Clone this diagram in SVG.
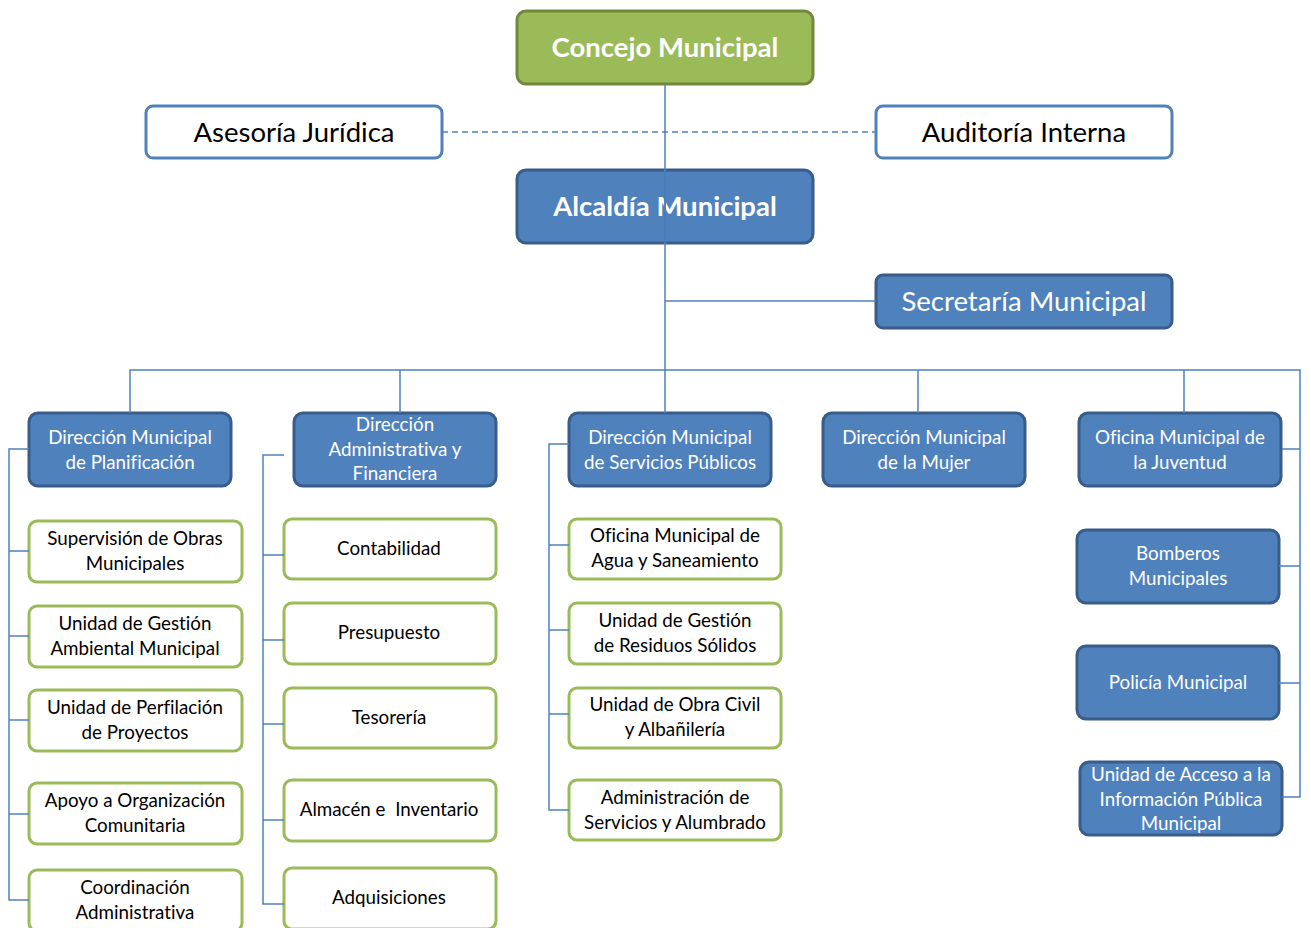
<svg xmlns="http://www.w3.org/2000/svg" width="1311" height="928" viewBox="0 0 1311 928">
<style>
.bg{fill:#ffffff}
.green{fill:#9BBB59;stroke:#71893F;stroke-width:3}
.blue{fill:#4F81BD;stroke:#385D8A;stroke-width:3}
.wb{fill:#ffffff;stroke:#4F81BD;stroke-width:3}
.wg{fill:#ffffff;stroke:#9BBB59;stroke-width:3}
.big{font-family:Lato,"Liberation Sans",sans-serif;font-size:27.5px;text-anchor:middle;font-variant-ligatures:none}
.bold{font-weight:bold}
.sm{font-family:Lato,"Liberation Sans",sans-serif;font-size:18.8px;text-anchor:middle;font-variant-ligatures:none}
.tw{fill:#ffffff}
.tk{fill:#000000}
.ln{fill:none;stroke:#4F81BD;stroke-width:1.5}
.thru{fill:none;stroke:#4A7BB5;stroke-width:1.5}
.dash{stroke-dasharray:6 4}
</style>
<rect class="bg" x="0" y="0" width="1311" height="928"/>

<g id="concejo"><rect class="green" x="517" y="11" width="296" height="73" rx="9"/><text class="big bold tw" x="665" y="57">Concejo Municipal</text></g>
<g id="asesoria"><rect class="wb" x="146" y="106" width="296" height="52" rx="7"/><text class="big tk" x="294" y="142">Asesoría Jurídica</text></g>
<g id="auditoria"><rect class="wb" x="876" y="106" width="296" height="52" rx="7"/><text class="big tk" x="1024" y="142">Auditoría Interna</text></g>
<g id="alcaldia"><rect class="blue" x="517" y="170" width="296" height="73" rx="9"/><text class="big bold tw" x="665" y="216">Alcaldía Municipal</text></g>
<g id="secretaria"><rect class="blue" x="876" y="275" width="296" height="53" rx="7"/><text class="big tw" x="1024" y="311">Secretaría Municipal</text></g>

<g id="dir-planificacion"><rect class="blue" x="29" y="413" width="202" height="73" rx="9"/><text class="sm tw" x="130" y="444">Dirección Municipal</text><text class="sm tw" x="130" y="469">de Planificación</text></g>
<g id="dir-administrativa"><rect class="blue" x="294" y="413" width="202" height="73" rx="9"/><text class="sm tw" x="395" y="431">Dirección</text><text class="sm tw" x="395" y="456">Administrativa y</text><text class="sm tw" x="395" y="480">Financiera</text></g>
<g id="dir-servicios"><rect class="blue" x="569" y="413" width="202" height="73" rx="9"/><text class="sm tw" x="670" y="444">Dirección Municipal</text><text class="sm tw" x="670" y="469">de Servicios Públicos</text></g>
<g id="dir-mujer"><rect class="blue" x="823" y="413" width="202" height="73" rx="9"/><text class="sm tw" x="924" y="444">Dirección Municipal</text><text class="sm tw" x="924" y="469">de la Mujer</text></g>
<g id="of-juventud"><rect class="blue" x="1079" y="413" width="202" height="73" rx="9"/><text class="sm tw" x="1180" y="444">Oficina Municipal de</text><text class="sm tw" x="1180" y="469">la Juventud</text></g>

<g id="supervision"><rect class="wg" x="29" y="521" width="213" height="61" rx="8"/><text class="sm tk" x="135" y="545">Supervisión de Obras</text><text class="sm tk" x="135" y="570">Municipales</text></g>
<g id="gestion-ambiental"><rect class="wg" x="29" y="606" width="213" height="61" rx="8"/><text class="sm tk" x="135" y="630">Unidad de Gestión</text><text class="sm tk" x="135" y="655">Ambiental Municipal</text></g>
<g id="perfilacion"><rect class="wg" x="29" y="690" width="213" height="61" rx="8"/><text class="sm tk" x="135" y="714">Unidad de Perfilación</text><text class="sm tk" x="135" y="739">de Proyectos</text></g>
<g id="apoyo"><rect class="wg" x="29" y="783" width="213" height="61" rx="8"/><text class="sm tk" x="135" y="807">Apoyo a Organización</text><text class="sm tk" x="135" y="832">Comunitaria</text></g>
<g id="coordinacion"><rect class="wg" x="29" y="870" width="213" height="61" rx="8"/><text class="sm tk" x="135" y="894">Coordinación</text><text class="sm tk" x="135" y="919">Administrativa</text></g>

<g id="contabilidad"><rect class="wg" x="284" y="519" width="212" height="60" rx="8"/><text class="sm tk" x="389" y="555">Contabilidad</text></g>
<g id="presupuesto"><rect class="wg" x="284" y="603" width="212" height="61" rx="8"/><text class="sm tk" x="389" y="639">Presupuesto</text></g>
<g id="tesoreria"><rect class="wg" x="284" y="688" width="212" height="60" rx="8"/><text class="sm tk" x="389" y="724">Tesorería</text></g>
<g id="almacen"><rect class="wg" x="284" y="780" width="212" height="61" rx="8"/><text class="sm tk" x="389" y="816" xml:space="preserve">Almacén e  Inventario</text></g>
<g id="adquisiciones"><rect class="wg" x="284" y="868" width="212" height="61" rx="8"/><text class="sm tk" x="389" y="904">Adquisiciones</text></g>

<g id="agua"><rect class="wg" x="569" y="519" width="212" height="60" rx="8"/><text class="sm tk" x="675" y="542">Oficina Municipal de</text><text class="sm tk" x="675" y="567">Agua y Saneamiento</text></g>
<g id="residuos"><rect class="wg" x="569" y="603" width="212" height="61" rx="8"/><text class="sm tk" x="675" y="627">Unidad de Gestión</text><text class="sm tk" x="675" y="652">de Residuos Sólidos</text></g>
<g id="obra-civil"><rect class="wg" x="569" y="688" width="212" height="60" rx="8"/><text class="sm tk" x="675" y="711">Unidad de Obra Civil</text><text class="sm tk" x="675" y="736">y Albañilería</text></g>
<g id="alumbrado"><rect class="wg" x="569" y="780" width="212" height="60" rx="8"/><text class="sm tk" x="675" y="804">Administración de</text><text class="sm tk" x="675" y="829">Servicios y Alumbrado</text></g>

<g id="bomberos"><rect class="blue" x="1077" y="530" width="202" height="73" rx="9"/><text class="sm tw" x="1178" y="560">Bomberos</text><text class="sm tw" x="1178" y="585">Municipales</text></g>
<g id="policia"><rect class="blue" x="1077" y="646" width="202" height="73" rx="9"/><text class="sm tw" x="1178" y="689">Policía Municipal</text></g>
<g id="acceso"><rect class="blue" x="1080" y="762" width="202" height="73" rx="9"/><text class="sm tw" x="1181" y="781">Unidad de Acceso a la</text><text class="sm tw" x="1181" y="806">Información Pública</text><text class="sm tw" x="1181" y="830">Municipal</text></g>

<g id="connectors">
<path class="ln dash" d="M442 132H876"/>
<path class="ln" d="M665 84V370"/>
<path class="thru" d="M665 170V243"/>
<path class="ln" d="M665 301H876"/>
<path class="ln" d="M130 413V370H1300V797H1282"/>
<path class="ln" d="M400 370V413M665 370V413M918 370V413M1184 370V413"/>
<path class="ln" d="M1282 449H1300M1279 566H1300M1279 683H1300"/>
<path class="ln" d="M29 449H9V900H29M9 551H29M9 636H29M9 720H29M9 814H29"/>
<path class="ln" d="M284 455H263V904H284M263 555H284M263 640H284M263 724H284M263 820H284"/>
<path class="ln" d="M569 444H549V810H569M549 545H569M549 630H569M549 714H569"/>
</g>
</svg>
